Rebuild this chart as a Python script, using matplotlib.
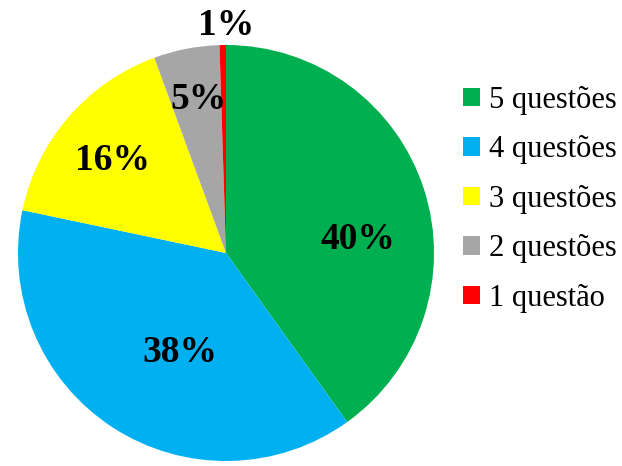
import matplotlib.pyplot as plt
from matplotlib.patches import Patch

# dados
categorias = ['5 questões', '4 questões', '3 questões', '2 questões', '1 questão']
valores = [40.1, 38.2, 16.1, 5.1, 0.5]  # fatias
rotulos = ['40%', '38%', '16%', '5%', '1%']
cores = ['#00B050', '#00B0F0', '#FFFF00', '#A6A6A6', '#FF0000']

# posicoes dos rotulos (em raios, a partir do centro)
pos_rotulos = [(0.635, 0.065), (-0.22, -0.476), (-0.548, 0.447), (-0.13, 0.74), (0.0, 1.095)]

plt.rcParams['font.family'] = ['Liberation Serif', 'DejaVu Serif']

fig = plt.figure(figsize=(6.22, 4.66), dpi=100)
ax = fig.add_axes([18 / 622, 5 / 466, 416 / 622, 416 / 466])

ax.pie(valores, colors=cores, startangle=90, counterclock=False, radius=1)
ax.set_xlim(-1, 1)
ax.set_ylim(-1, 1)
ax.set_aspect('equal')
ax.axis('off')

for txt, (x, y) in zip(rotulos, pos_rotulos):
    ax.text(x, y, txt, ha='center', va='center', fontsize=27, fontweight='bold', color='black')

handles = [Patch(facecolor=c, edgecolor='none') for c in cores]
fig.legend(handles, categorias, loc='upper left', bbox_to_anchor=(463 / 622, 1 - 86 / 466),
           frameon=False, fontsize=22, handlelength=0.55, handleheight=0.55,
           handletextpad=0.3, labelspacing=0.67, borderpad=0, borderaxespad=0)

fig.savefig('out.png', dpi=100)
